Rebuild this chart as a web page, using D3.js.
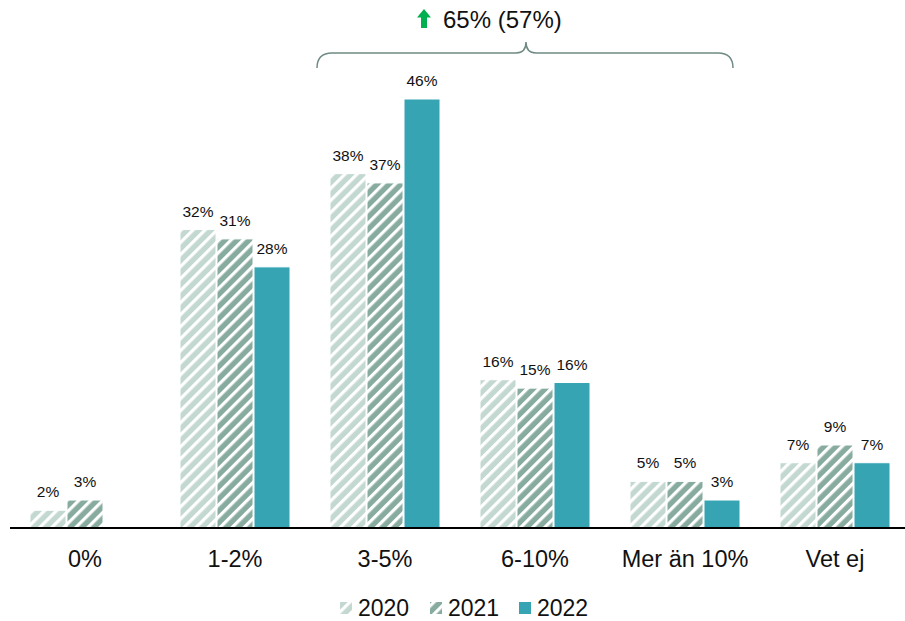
<!DOCTYPE html>
<html><head><meta charset="utf-8">
<script src="https://cdn.jsdelivr.net/npm/d3@7"></script>
<style>body{margin:0;background:#fff}svg{display:block;font-family:"Liberation Sans",Arial,sans-serif}</style>
</head><body>
<svg id="c" width="905" height="621"></svg>
<script>
const categories = ["0%", "1-2%", "3-5%", "6-10%", "Mer än 10%", "Vet ej"];
const seriesNames = ["2020", "2021", "2022"];
const v2020 = [1.9, 32, 38, 15.9, 5, 7];
const v2021 = [3, 31, 37, 15, 5, 8.9];
const v2022 = [null, 28, 46, 15.6, 3, 7];
const annotationText = "65% (57%)";

const svg = d3.select("#c");
const defs = svg.append("defs");
const colors = {"2020": "#c3d8d1", "2021": "#87ab9f", "2022": "#37a4b4"};
["2020","2021"].forEach(s => {
  const p = defs.append("pattern").attr("id","h"+s).attr("patternUnits","userSpaceOnUse")
    .attr("width",8.5).attr("height",8.5).attr("patternTransform","rotate(45)");
  p.append("rect").attr("width",8.5).attr("height",8.5).attr("fill",colors[s]);
  p.append("rect").attr("x",0).attr("width",3.2).attr("height",8.5).attr("fill","#fff");
});
const fills = {"2020":"url(#h2020)","2021":"url(#h2021)","2022":colors["2022"]};

const x = d3.scaleBand().domain(categories).range([10, 910]).paddingInner(0.26).paddingOuter(0.13);
const xs = d3.scaleBand().domain(seriesNames).range([0, x.bandwidth()]).padding(0);
const y = d3.scaleLinear().domain([0, 46]).range([528, 99]);

const data = [];
categories.forEach((c,i) => {
  [v2020, v2021, v2022].forEach((arr,j) => {
    if (arr[i] != null) data.push({c, s: seriesNames[j], v: arr[i]});
  });
});

const g = svg.append("g");
g.selectAll("rect.bar").data(data).join("rect").attr("class","bar")
  .attr("x", d => x(d.c) + xs(d.s) + 0.5)
  .attr("width", xs.bandwidth() - 1)
  .attr("y", d => y(d.v))
  .attr("height", d => y(0) - y(d.v))
  .attr("fill", d => fills[d.s])
  .attr("stroke", "#fff").attr("stroke-width", 1);

g.selectAll("text.val").data(data).join("text").attr("class","val")
  .attr("x", d => x(d.c) + xs(d.s) + xs.bandwidth()/2)
  .attr("y", d => y(d.v) - 13)
  .attr("text-anchor","middle").attr("font-size",15.5).attr("fill","#111")
  .text(d => Math.round(d.v) + "%");

// axis
const axis = d3.axisBottom(x).tickSize(0).tickPadding(0);
const ag = svg.append("g").attr("transform","translate(0,528)").call(axis);
ag.select(".domain").attr("d","M10,0H905").attr("stroke","#000").attr("stroke-width",2);
ag.selectAll(".tick text").attr("font-size",23.5).attr("fill","#111")
  .attr("font-family","Liberation Sans, Arial, sans-serif").attr("y",39).attr("dy",0);

// brace annotation
const bl = 317, br = 733, bm = 526, bt = 53;
svg.append("path")
  .attr("d", `M${bl},68 Q${bl},${bt} ${bl+15},${bt} L${bm-10},${bt} Q${bm},${bt} ${bm},42 Q${bm},${bt} ${bm+10},${bt} L${br-15},${bt} Q${br},${bt} ${br},68`)
  .attr("fill","none").attr("stroke","#6f8a84").attr("stroke-width",1.5);
svg.append("path").attr("d","M424,9 L431,17.5 L427,17.5 L427,28 L421,28 L421,17.5 L417,17.5 Z").attr("fill","#00b050");
svg.append("text").attr("x",443).attr("y",28).attr("font-size",24).attr("fill","#111").text(annotationText);

// legend
const lx = [340, 430, 519];
const lg = svg.append("g");
seriesNames.forEach((s,i) => {
  lg.append("rect").attr("x",lx[i]).attr("y",602).attr("width",12).attr("height",12).attr("fill",fills[s]);
  lg.append("text").attr("x",lx[i]+18).attr("y",616).attr("font-size",23).attr("fill","#111").text(s);
});
</script>
</body></html>
